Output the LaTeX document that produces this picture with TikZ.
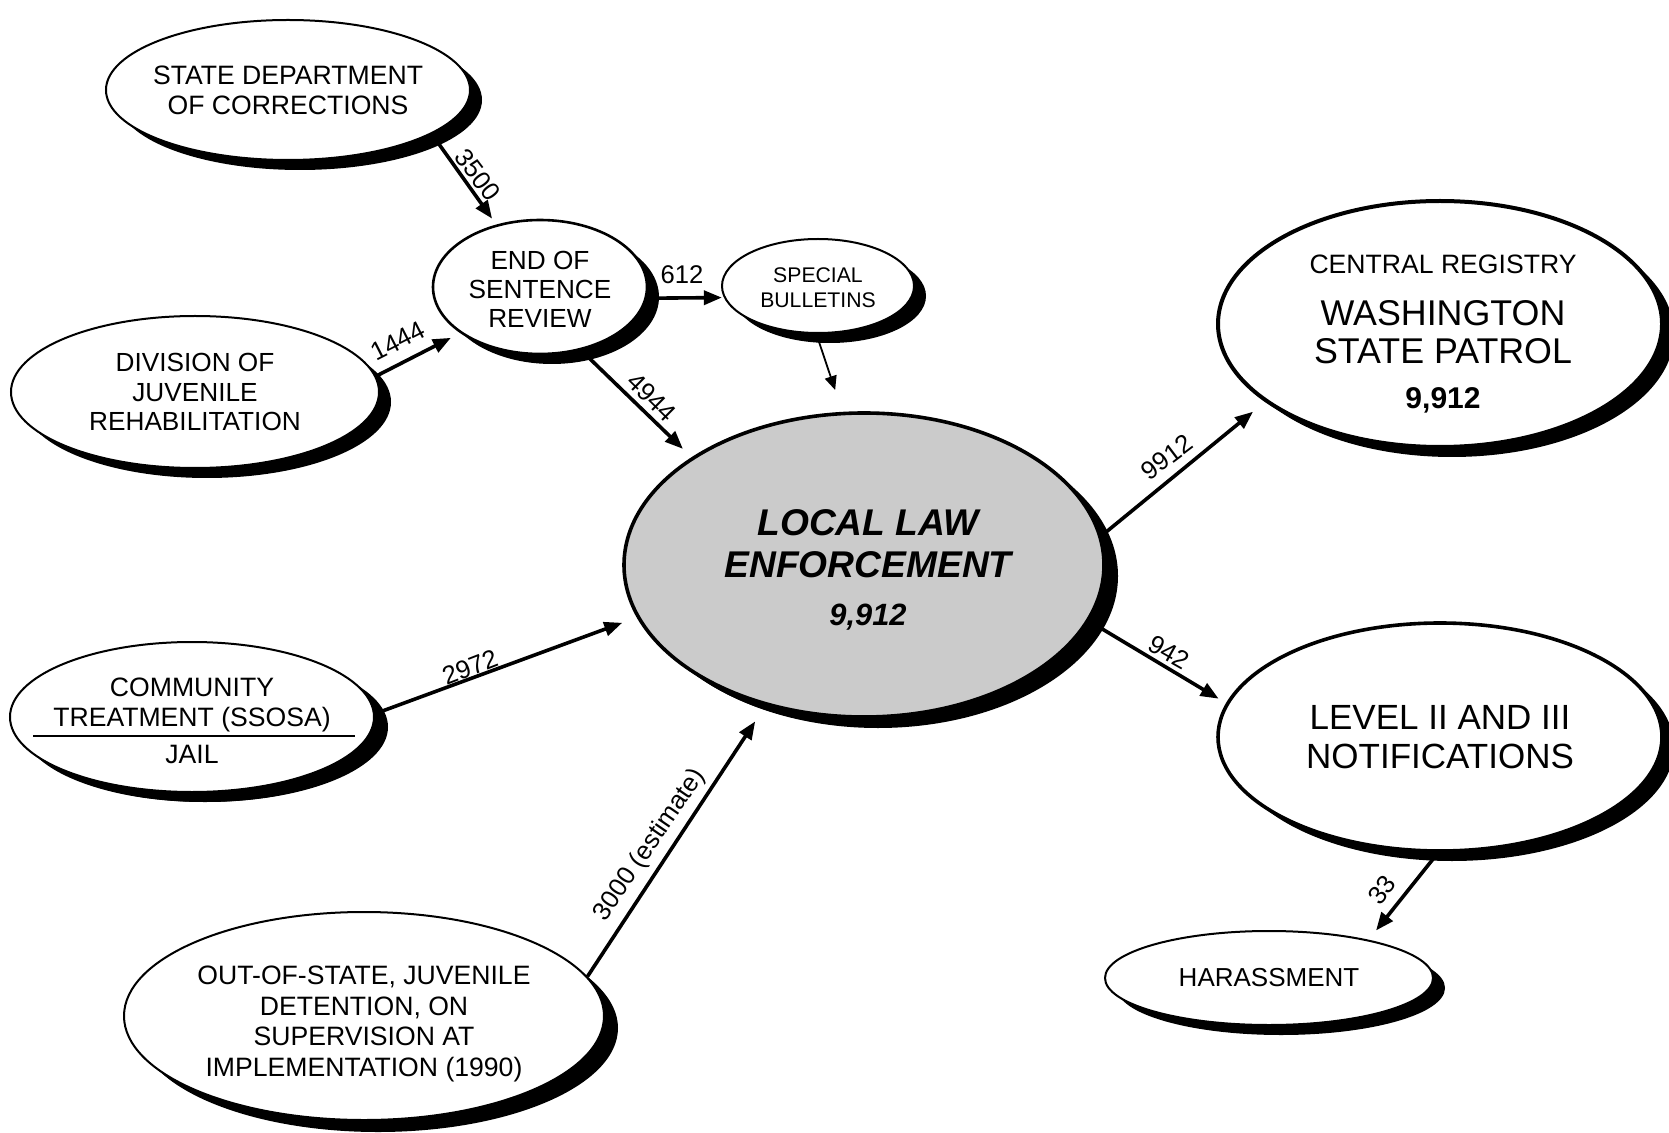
\documentclass[tikz,border=0pt]{standalone}
\usepackage{fontspec}
\setmainfont{Liberation Sans}
\usetikzlibrary{shapes.geometric,arrows.meta,shadows,backgrounds}
\definecolor{llegray}{RGB}{203,203,203}
\begin{document}
\begin{tikzpicture}[x=0.5pt,y=-0.5pt,
  bub/.style={ellipse, draw, fill=white, line width=1pt, inner sep=0pt,
    drop shadow={shadow xshift=6pt, shadow yshift=-5pt, fill=black, opacity=1}},
  txt/.style={align=center, inner sep=0pt, font=\fontsize{13.3}{15}\selectfont},
  arr/.style={line width=1.8pt, -{Triangle[length=9pt,width=7pt]}},
  thinarr/.style={line width=0.9pt, -{Triangle[length=7pt,width=6pt]}},
  lbl/.style={inner sep=0pt, font=\fontsize{12.8}{14}\selectfont}]
\useasboundingbox (0,0) rectangle (1669,1133);

% bubbles
\node[bub, minimum width=182pt, minimum height=70pt] (sdoc) at (288,90) {};
\node[bub, line width=1.3pt, minimum width=107pt, minimum height=67pt] (esr) at (540,287) {};
\node[bub, minimum width=96pt, minimum height=47pt] (sb) at (818,286) {};
\node[bub, minimum width=184pt, minimum height=76pt] (djr) at (195,392) {};
\node[bub, fill=llegray, line width=1.8pt, minimum width=240pt, minimum height=152pt,
  drop shadow={shadow xshift=7pt, shadow yshift=-5.5pt, fill=black, opacity=1}] (lle) at (864,565) {};
\node[bub, line width=2pt, minimum width=222pt, minimum height=123pt] (cr) at (1440,324) {};
\node[bub, line width=1.8pt, minimum width=222pt, minimum height=114pt] (lvl) at (1440,737) {};
\node[bub, minimum width=164pt, minimum height=47pt] (har) at (1269,978) {};
\node[bub, minimum width=182pt, minimum height=75pt,
  drop shadow={shadow xshift=7pt, shadow yshift=-5pt, fill=black, opacity=1}] (comm) at (192,717) {};
\node[bub, minimum width=240pt, minimum height=104pt,
  drop shadow={shadow xshift=7pt, shadow yshift=-6pt, fill=black, opacity=1}] (oos) at (364,1016) {};

% texts
\node[txt] (sdoc-t) at (sdoc) {STATE DEPARTMENT\\OF CORRECTIONS};
\node[txt, font=\fontsize{13.1}{14.5}\selectfont] (esr-t) at ([yshift=-1pt]esr.center) {END OF\\SENTENCE\\REVIEW};
\node[txt, font=\fontsize{10.6}{12.5}\selectfont] (sb-t) at ([yshift=-1pt]sb.center) {SPECIAL\\BULLETINS};
\node[txt, font=\fontsize{13.1}{14.75}\selectfont] (djr-t) at (djr) {DIVISION OF\\JUVENILE\\REHABILITATION};
\node[txt, font=\fontsize{18.6}{21}\selectfont\bfseries\itshape] (lle-t) at ([xshift=2pt,yshift=-2.5pt]lle.center)
  {LOCAL LAW\\ENFORCEMENT\\[2.8pt]{\fontsize{15.4}{17}\selectfont 9,912}};
\node[txt, font=\fontsize{17.9}{19}\selectfont] (cr-t) at ([xshift=1.5pt,yshift=-5pt]cr.center)
  {{\fontsize{13.3}{15}\selectfont CENTRAL REGISTRY}\\[6.6pt]WASHINGTON\\STATE PATROL\\[3.5pt]{\fontsize{15}{17}\selectfont\bfseries 9,912}};
\node[txt, font=\fontsize{17.5}{19.5}\selectfont] (lvl-t) at (lvl) {LEVEL II AND III\\NOTIFICATIONS};
\node[txt, font=\fontsize{13}{15}\selectfont] (har-t) at (har) {HARASSMENT};
\node[txt] (comm-t) at ([yshift=-2pt]comm.center) {COMMUNITY\\TREATMENT (SSOSA)\\[3.5pt]JAIL};
\draw[line width=1pt] (33,736) -- (355,736);
\node[txt, font=\fontsize{13.3}{15.3}\selectfont] (oos-t) at ([yshift=-4pt]oos.center)
  {OUT-OF-STATE, JUVENILE\\DETENTION, ON\\SUPERVISION AT\\IMPLEMENTATION (1990)};

% connector labels
\node[lbl, rotate=-52.8] (l3500) at (478,175) {3500};
\node[lbl] (l612) at (682,275) {612};
\node[lbl, rotate=-44.7] (l4944) at (652,397) {4944};
\node[lbl, rotate=27] (l1444) at (398,341) {1444};
\node[lbl, rotate=21.2] (l2972) at (470,667) {2972};
\node[lbl, rotate=55.6] (l3000) at (650,845) {3000 (estimate)};
\node[lbl, rotate=37] (l9912) at (1167,457) {9912};
\node[lbl, rotate=-29.5] (l942) at (1169,652) {942};
\node[lbl, rotate=52] (l33) at (1382,890) {33};

% connectors
\begin{scope}[on background layer]
\fill[white] (0,0) rectangle (1669,1133);
\draw[arr, shorten >=3.6pt] (sdoc.-17.9) -- (esr.125.5);
\draw[arr, shorten >=1pt] (esr.-6) -- (sb.187.4);
\draw[arr, shorten >=6pt] (esr.-57.2) -- (lle.148.5);
\draw[thinarr, shorten >=11.5pt] (sb.-92) -- (lle.98.7);
\draw[arr, shorten >=5.2pt] (djr.5.9) -- (esr.210.2);
\draw[arr, shorten >=7.7pt] (comm.1.4) -- (lle.193.4);
\draw[arr, shorten >=9.5pt] (oos.10.7) -- (lle.235.6);
\draw[arr, shorten >=7.7pt] (lle.7.7) -- (cr.204.9);
\draw[arr, shorten >=4.3pt] (lle.-14.8) -- (lvl.171.3);
\draw[arr, shorten >=5.9pt] (lvl.-91.7) -- (har.21.1);
\end{scope}
\end{tikzpicture}
\end{document}
